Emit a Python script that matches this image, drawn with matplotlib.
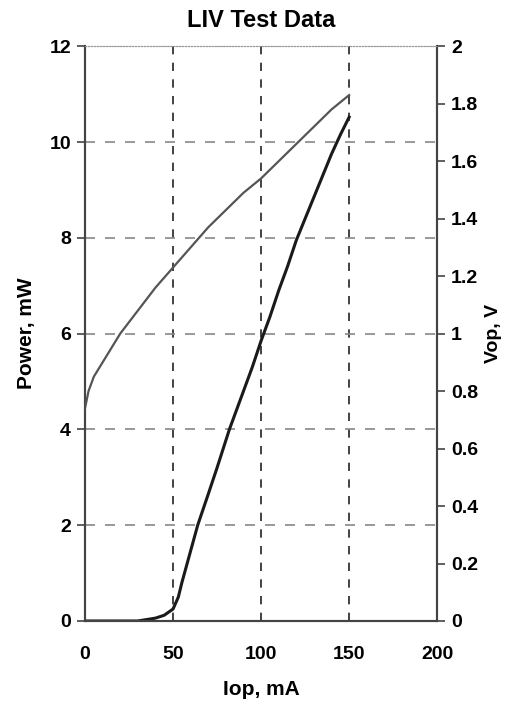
import matplotlib.pyplot as plt

# LIV test data
iop_power = [0, 30, 35, 40, 45, 50, 53, 55, 58, 61, 64, 70, 75, 82, 90, 95,
             100, 105, 110, 115, 120, 125, 130, 135, 140, 145, 150]
power_mw = [0, 0, 0.03, 0.06, 0.12, 0.25, 0.5, 0.8, 1.2, 1.6, 2.0, 2.65, 3.2,
            4.0, 4.8, 5.3, 5.85, 6.35, 6.9, 7.4, 7.95, 8.4, 8.85, 9.3, 9.75,
            10.15, 10.52]

iop_volt = [0, 2, 5, 10, 15, 20, 30, 40, 50, 60, 70, 80, 90, 100, 110, 120,
            130, 140, 150]
vop_v = [0.74, 0.80, 0.85, 0.90, 0.95, 1.0, 1.08, 1.16, 1.23, 1.30, 1.37,
         1.43, 1.49, 1.54, 1.60, 1.66, 1.72, 1.78, 1.83]

xticks = [0, 50, 100, 150, 200]
yticks_left = [0, 2, 4, 6, 8, 10, 12]
yticks_right = [0, 0.2, 0.4, 0.6, 0.8, 1, 1.2, 1.4, 1.6, 1.8, 2]

plt.rcParams['font.family'] = ['Liberation Sans', 'DejaVu Sans']
plt.rcParams['font.weight'] = 'bold'

fig = plt.figure(figsize=(5.06, 7.11), dpi=100)
ax = fig.add_axes([0.168, 0.1266, 0.696, 0.8084])
ax2 = ax.twinx()

ax.plot(iop_power, power_mw, color='#1a1a1a', lw=2.2, zorder=3)
ax2.plot(iop_volt, vop_v, color='#555555', lw=1.6, zorder=3)

ax.set_xlim(0, 200)
ax.set_ylim(0, 12)
ax2.set_ylim(0, 2)
ax.set_xticks(xticks)
ax.set_xticklabels([str(t) for t in xticks])
ax.set_yticks(yticks_left)
ax.set_yticklabels([str(t) for t in yticks_left])
ax2.set_yticks(yticks_right)
ax2.set_yticklabels(['0', '0.2', '0.4', '0.6', '0.8', '1', '1.2', '1.4',
                     '1.6', '1.8', '2'])

# grid: vertical black dashes, horizontal gray dashes
for x in [50, 100, 150]:
    ax.axvline(x, color='#222222', ls=(0, (5, 5)), lw=1.2, zorder=1)
for y in [2, 4, 6, 8, 10]:
    ax.axhline(y, color='#888888', ls=(0, (6, 6)), lw=1.2, zorder=1)

for a in (ax, ax2):
    a.spines['top'].set_linestyle(':')
    a.spines['top'].set_color('#999999')
    a.spines['left'].set_color('#444444')
    a.spines['right'].set_color('#444444')
    a.spines['bottom'].set_color('#444444')
    a.spines['left'].set_linewidth(1.5)
    a.spines['right'].set_linewidth(1.5)
    a.spines['bottom'].set_linewidth(1.5)
    a.tick_params(direction='out', length=6, width=1.2, color='#444444',
                  labelsize=14, pad=4)
ax.tick_params(axis='x', length=0, pad=18)

ax.set_title('LIV Test Data', fontsize=17, fontweight='bold', pad=14)
ax.set_xlabel('Iop, mA', fontsize=15, fontweight='bold', labelpad=12)
ax.set_ylabel('Power, mW', fontsize=15, fontweight='bold', labelpad=10)
ax2.set_ylabel('Vop, V', fontsize=14, fontweight='bold', labelpad=5)

fig.savefig('out.png', dpi=100)
